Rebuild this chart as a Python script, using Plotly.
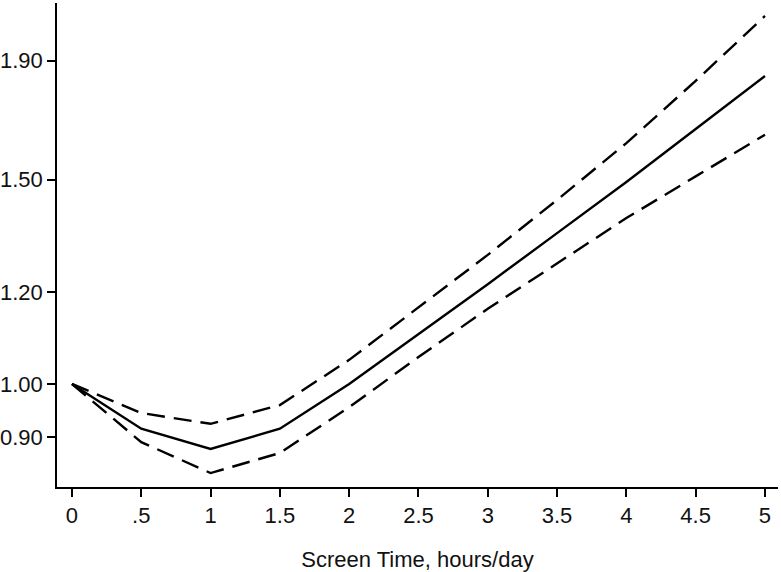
import plotly.graph_objects as go

# screen time (hours/day) and relative risk with 95% CI
hours = [0, 0.5, 1, 1.5, 2, 2.5, 3, 3.5, 4, 4.5, 5]
rr = [1.00, 0.915, 0.879, 0.915, 1.00, 1.104, 1.219, 1.349, 1.493, 1.659, 1.843]
ci_upper = [1.00, 0.944, 0.924, 0.959, 1.049, 1.165, 1.292, 1.441, 1.613, 1.825, 2.076]
ci_lower = [1.00, 0.891, 0.838, 0.872, 0.955, 1.055, 1.161, 1.271, 1.390, 1.510, 1.640]

x_ticks = [0, 0.5, 1, 1.5, 2, 2.5, 3, 3.5, 4, 4.5, 5]
x_ticktext = ["0", ".5", "1", "1.5", "2", "2.5", "3", "3.5", "4", "4.5", "5"]
y_ticks = [0.90, 1.00, 1.20, 1.50, 1.90]
y_ticktext = ["0.90", "1.00", "1.20", "1.50", "1.90"]

FONT = "Liberation Sans, Arial, sans-serif"
dash = "18px,9px"

fig = go.Figure()
fig.add_trace(go.Scatter(x=hours, y=ci_upper, mode="lines",
                         line=dict(color="black", width=2.4, dash=dash)))
fig.add_trace(go.Scatter(x=hours, y=rr, mode="lines",
                         line=dict(color="black", width=2.4)))
fig.add_trace(go.Scatter(x=hours, y=ci_lower, mode="lines",
                         line=dict(color="black", width=2.4, dash=dash)))

fig.update_layout(
    width=781,
    height=572,
    showlegend=False,
    plot_bgcolor="white",
    paper_bgcolor="white",
    font=dict(family=FONT, size=22, color="#111111"),
    margin=dict(l=57, r=3, t=3, b=85),
)
fig.update_xaxes(
    range=[-0.108, 5.094],
    tickvals=x_ticks,
    ticktext=x_ticktext,
    showline=True,
    linecolor="black",
    linewidth=1.6,
    ticks="outside",
    ticklen=8,
    tickwidth=1.5,
    tickcolor="black",
    showgrid=False,
    zeroline=False,
    automargin=False,
    title=dict(text="Screen Time, hours/day", font=dict(size=22), standoff=25),
)
fig.update_yaxes(
    type="log",
    range=[-0.0888, 0.3284],
    tickvals=y_ticks,
    ticktext=y_ticktext,
    showline=True,
    linecolor="black",
    linewidth=1.6,
    ticks="outside",
    ticklen=8,
    tickwidth=1.5,
    tickcolor="black",
    showgrid=False,
    zeroline=False,
    automargin=False,
)

# drop the default page margin so the figure sits at the window's corner
fig.write_html(
    "out.html",
    config={"displayModeBar": False},
    post_script="document.body.style.margin='0';",
)
